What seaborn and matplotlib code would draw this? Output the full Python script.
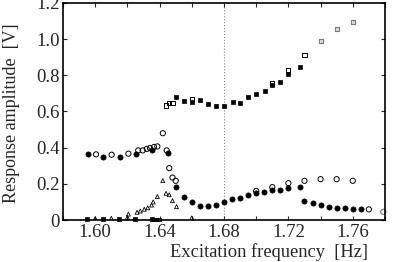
import numpy as np
import pandas as pd
import seaborn as sns
import matplotlib.pyplot as plt
from matplotlib.ticker import MultipleLocator, FixedLocator

# upper branch, filled squares
sq_f_x = [1.650, 1.6553, 1.660, 1.665, 1.670, 1.675, 1.680, 1.6854, 1.690, 1.695,
          1.700, 1.7055, 1.710, 1.715, 1.720, 1.727]
sq_f_y = [0.680, 0.657, 0.654, 0.663, 0.643, 0.630, 0.633, 0.654, 0.648, 0.680,
          0.694, 0.713, 0.746, 0.763, 0.809, 0.844]
# upper branch, open squares
sq_o_x = [1.644, 1.646, 1.648, 1.660, 1.710, 1.720, 1.730]
sq_o_y = [0.633, 0.648, 0.648, 0.667, 0.759, 0.828, 0.911]
sq_g_x = [1.740, 1.750, 1.760]
sq_g_y = [0.987, 1.057, 1.093]

# lower branch, filled circles
ci_f_x = [1.5957, 1.605, 1.6154, 1.6253, 1.635, 1.6454, 1.650, 1.6553, 1.660, 1.665,
          1.670, 1.675, 1.680, 1.6852, 1.690, 1.695, 1.700, 1.705, 1.710, 1.715, 1.720,
          1.727, 1.730, 1.735, 1.740, 1.745, 1.750, 1.755, 1.760, 1.765]
ci_f_y = [0.367, 0.350, 0.350, 0.365, 0.389, 0.370, 0.181, 0.126, 0.098, 0.080,
          0.078, 0.083, 0.098, 0.116, 0.124, 0.139, 0.148, 0.154, 0.167, 0.167, 0.180,
          0.182, 0.106, 0.096, 0.083, 0.074, 0.069, 0.069, 0.061, 0.059]
# open circles
ci_o_x = [1.6005, 1.6102, 1.6206, 1.6267, 1.6295, 1.632, 1.634, 1.6365, 1.6386,
          1.642, 1.6444, 1.646, 1.648, 1.650, 1.700, 1.710, 1.720, 1.730, 1.740,
          1.750, 1.760, 1.770]
ci_o_y = [0.363, 0.361, 0.367, 0.385, 0.385, 0.393, 0.398, 0.404, 0.407,
          0.480, 0.385, 0.287, 0.235, 0.217, 0.161, 0.182, 0.204, 0.217, 0.226,
          0.226, 0.217, 0.059]
ci_g_x = [1.779]
ci_g_y = [0.046]

# triangles
tr_x = [1.600, 1.610, 1.620, 1.6206, 1.626, 1.628, 1.6305, 1.6326, 1.635, 1.636,
        1.6386, 1.642, 1.644, 1.646, 1.648, 1.6505, 1.660]
tr_y = [0.008, 0.010, 0.015, 0.033, 0.043, 0.050, 0.060, 0.068, 0.083, 0.100,
        0.130, 0.218, 0.148, 0.140, 0.107, 0.074, 0.012]

# points near zero
z_f_x = [1.595, 1.605, 1.615, 1.6247, 1.635]
z_f_y = [0.004, 0.004, 0.008, 0.004, 0.004]
z_o_x = [1.6365, 1.638, 1.6395]
z_o_y = [0.004, 0.004, 0.004]

sns.set_style('ticks')
plt.rcParams['font.family'] = ['Liberation Serif', 'DejaVu Serif']

fig = plt.figure(figsize=(3.94, 2.62), dpi=100)
ax = fig.add_axes([0.16, 0.16, 0.817, 0.829])

ax.axvline(1.68, color='#888888', lw=0.8, ls=':', zorder=0)

ms = 14
sns.scatterplot(x=ci_o_x, y=ci_o_y, marker='o', s=ms, facecolor='none',
                edgecolor='black', linewidth=0.7, ax=ax)
sns.scatterplot(x=ci_g_x, y=ci_g_y, marker='o', s=ms, facecolor='none',
                edgecolor='#666666', linewidth=0.7, ax=ax, clip_on=False)
sns.scatterplot(x=ci_f_x, y=ci_f_y, marker='o', s=ms, color='black',
                edgecolor='black', linewidth=0.5, ax=ax)
sns.scatterplot(x=sq_o_x, y=sq_o_y, marker='s', s=9, facecolor='none',
                edgecolor='black', linewidth=0.7, ax=ax)
sns.scatterplot(x=sq_g_x, y=sq_g_y, marker='s', s=9, facecolor='#dddddd',
                edgecolor='#777777', linewidth=0.8, ax=ax)
sns.scatterplot(x=sq_f_x, y=sq_f_y, marker='s', s=9, color='black',
                edgecolor='black', linewidth=0.5, ax=ax)
sns.scatterplot(x=tr_x, y=tr_y, marker='^', s=8, facecolor='none',
                edgecolor='black', linewidth=0.6, ax=ax)
sns.scatterplot(x=z_f_x, y=z_f_y, marker='s', s=6, color='black',
                edgecolor='black', linewidth=0.5, ax=ax, clip_on=False)
sns.scatterplot(x=z_o_x, y=z_o_y, marker='s', s=6, facecolor='none',
                edgecolor='black', linewidth=0.6, ax=ax, clip_on=False)

ax.set_xlim(1.58, 1.78)
ax.set_ylim(0, 1.2)
ax.xaxis.set_major_locator(FixedLocator([1.60, 1.64, 1.68, 1.72, 1.76]))
ax.xaxis.set_minor_locator(MultipleLocator(0.02))
ax.set_xticklabels(['1.60', '1.64', '1.68', '1.72', '1.76'])
ax.set_yticks([0, 0.2, 0.4, 0.6, 0.8, 1.0, 1.2])
ax.set_yticklabels(['0', '0.2', '0.4', '0.6', '0.8', '1.0', '1.2'])
ax.tick_params(which='both', direction='in', top=True, right=True,
               length=3, width=0.8, labelsize=13.5, pad=2.5)
for s in ax.spines.values():
    s.set_linewidth(1.2)
    s.set_color('black')

ax.set_xlabel('Excitation frequency  [Hz]', fontsize=13.3)
ax.xaxis.set_label_coords(0.64, -0.105)
ax.set_ylabel('Response amplitude  [V]', fontsize=13)
ax.yaxis.set_label_coords(-0.135, 0.49)

fig.savefig('out.png', dpi=100)
